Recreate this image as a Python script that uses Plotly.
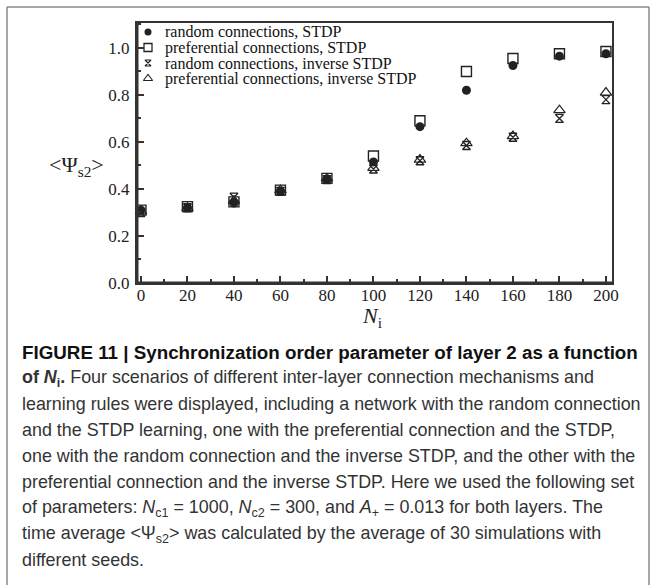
import plotly.graph_objects as go

# Number of inter-layer connections N_i
n_i = [0, 20, 40, 60, 80, 100, 120, 140, 160, 180, 200]

# Time-averaged synchronization order parameter <Psi_s2> of layer 2
random_stdp = [0.31, 0.32, 0.34, 0.39, 0.44, 0.515, 0.665, 0.82, 0.925, 0.965, 0.975]
preferential_stdp = [0.31, 0.325, 0.345, 0.395, 0.445, 0.54, 0.69, 0.90, 0.955, 0.975, 0.985]
random_inverse = [0.30, 0.32, 0.365, 0.39, 0.44, 0.485, 0.52, 0.585, 0.62, 0.70, 0.78]
preferential_inverse = [0.305, 0.32, 0.35, 0.395, 0.445, 0.49, 0.525, 0.595, 0.625, 0.735, 0.81]

series_names = [
    "random connections, STDP",
    "preferential connections, STDP",
    "random connections, inverse STDP",
    "preferential connections, inverse STDP",
]

x_ticks = [0, 20, 40, 60, 80, 100, 120, 140, 160, 180, 200]
y_ticks = [0.0, 0.2, 0.4, 0.6, 0.8, 1.0]

caption_lines = [
    "<b>FIGURE 11 | Synchronization order parameter of layer 2 as a function</b>",
    "<b>of <i>N</i><sub>i</sub>.</b> Four scenarios of different inter-layer connection mechanisms and",
    "learning rules were displayed, including a network with the random connection",
    "and the STDP learning, one with the preferential connection and the STDP,",
    "one with the random connection and the inverse STDP, and the other with the",
    "preferential connection and the inverse STDP. Here we used the following set",
    "of parameters: <i>N</i><sub>c1</sub> = 1000, <i>N</i><sub>c2</sub> = 300, and <i>A</i><sub>+</sub> = 0.013 for both layers. The",
    "time average &lt;Ψ<sub>s2</sub>&gt; was calculated by the average of 30 simulations with",
    "different seeds.",
]

# page geometry (pixels)
W, H = 655, 585
L, R, T, B = 137, 43, 23, 302
PW, PH = W - L - R, H - T - B

def px_x(px):
    return (px - L) / PW

def px_y(py):
    return (T + PH - py) / PH

SERIF = "Liberation Serif"
SANS = "Liberation Sans"
INK = "#222222"
AXIS = "#333333"

def marker_style(symbol, size, width):
    return dict(symbol=symbol, size=size, color=INK, line=dict(width=width, color=INK))

styles = [
    ("circle", 9, 0),
    ("square-open", 10, 1.4),
    ("hourglass-open", 8, 1.3),
    ("triangle-up-open", 10, 1.2),
]
data = [random_stdp, preferential_stdp, random_inverse, preferential_inverse]

fig = go.Figure()
for name, ys, (sym, sz, lw) in zip(series_names, data, styles):
    fig.add_trace(go.Scatter(x=n_i, y=ys, mode="markers", name=name,
                             marker=marker_style(sym, sz, lw),
                             showlegend=False, cliponaxis=False))

# hand-drawn legend in the upper-left corner of the plot box
row_y = [32, 47.5, 63, 78.5]
for i, (name, (sym, sz, lw)) in enumerate(zip(series_names, styles)):
    fig.add_trace(go.Scatter(x=[px_x(148)], y=[px_y(row_y[i])], mode="markers",
                             marker=marker_style(sym, sz - 2, lw * 0.9),
                             xaxis="x2", yaxis="y2",
                             showlegend=False, hoverinfo="skip", cliponaxis=False))
    fig.add_annotation(x=px_x(163), y=px_y(row_y[i]), xref="paper", yref="paper",
                       text=name, showarrow=False, xanchor="left", yanchor="middle",
                       font=dict(family=SERIF, size=16, color="#111111"))

axis_common = dict(
    showgrid=False, zeroline=False, showline=True, linecolor=AXIS,
    linewidth=2, mirror=True, ticks="inside", ticklen=7, tickwidth=2,
    tickcolor=AXIS, tickfont=dict(family=SERIF, size=17, color=INK),
)

fig.update_layout(
    width=W, height=H,
    margin=dict(l=L, r=R, t=T, b=B),
    paper_bgcolor="white", plot_bgcolor="white",
    xaxis=dict(range=[-1.7, 202.6], tickvals=x_ticks, ticklabelstandoff=-4,
               minor=dict(dtick=10, tick0=0, ticks="inside", ticklen=4,
                          tickwidth=2, tickcolor=AXIS),
               **axis_common),
    yaxis=dict(range=[0, 1.106], tickvals=y_ticks, tickformat=".1f",
               ticklabelstandoff=2,
               minor=dict(dtick=0.1, tick0=0, ticks="inside", ticklen=4,
                          tickwidth=2, tickcolor=AXIS),
               **axis_common),
    xaxis2=dict(overlaying="x", range=[0, 1], visible=False, anchor="y2"),
    yaxis2=dict(overlaying="y", range=[0, 1], visible=False, anchor="x2"),
    showlegend=False,
)

# heavier left and bottom spines
spine = dict(type="line", xref="paper", yref="paper", line=dict(color=AXIS, width=3))
fig.add_shape(x0=0, x1=0, y0=0, y1=1, **spine)
fig.add_shape(x0=0, x1=1, y0=0, y1=0, **spine)

# axis titles
fig.add_annotation(x=px_x(372), y=px_y(317), xref="paper", yref="paper",
                   text="<i>N</i><sub>i</sub>", showarrow=False,
                   xanchor="center", yanchor="middle",
                   font=dict(family=SERIF, size=22, color=INK))
fig.add_annotation(x=px_x(76), y=px_y(166), xref="paper", yref="paper",
                   text="&lt;Ψ<sub>s2</sub>&gt;", showarrow=False,
                   xanchor="center", yanchor="middle",
                   font=dict(family=SERIF, size=22, color=INK))

# caption
cap_y0, cap_dy = 352, 26
for k, line in enumerate(caption_lines):
    head = k == 0
    fig.add_annotation(x=px_x(20), y=px_y(cap_y0 + k * cap_dy), xref="paper", yref="paper",
                       text=line, showarrow=False, xanchor="left", yanchor="middle",
                       font=dict(family=SANS, size=18.8 if head else 17.9,
                                 color="#111111" if head else "#333333"))

# outer frame
frame = dict(type="line", xref="paper", yref="paper", line=dict(color="#8a8a8a", width=1.5))
fig.add_shape(x0=px_x(7), x1=px_x(649), y0=px_y(7), y1=px_y(7), **frame)
fig.add_shape(x0=px_x(7), x1=px_x(7), y0=px_y(7), y1=px_y(600), **frame)
fig.add_shape(x0=px_x(649), x1=px_x(649), y0=px_y(7), y1=px_y(600), **frame)

fig.write_html("out.html")
